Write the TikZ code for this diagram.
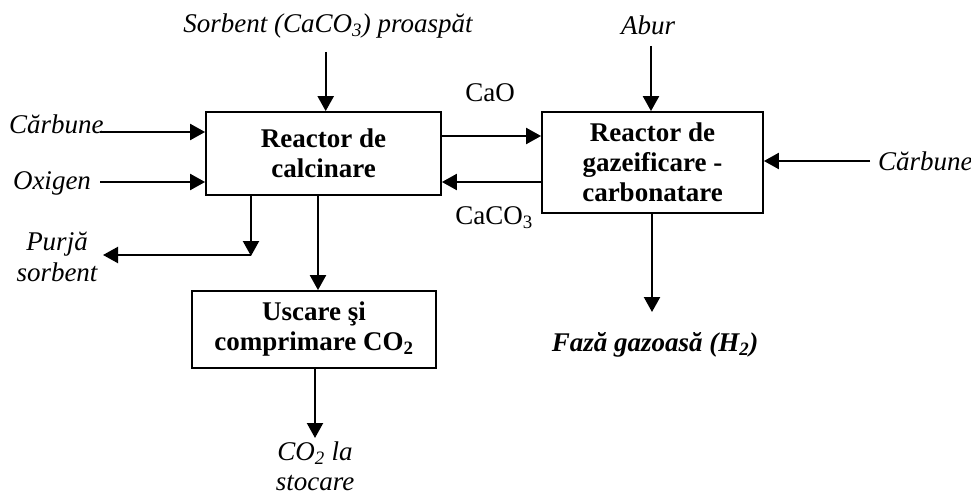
\documentclass[tikz,border=0pt]{standalone}
\usepackage{fontspec}
\setmainfont{Liberation Serif}
\usetikzlibrary{arrows.meta}
\begin{document}
\begin{tikzpicture}[x=1pt,y=-1pt,
  font=\fontsize{27}{30}\selectfont,
  unit/.style={draw, line width=1.8pt, inner sep=0pt, align=center, font=\fontsize{27}{30}\selectfont\bfseries},
  lbl/.style={inner sep=0pt, align=center},
  flow/.style={line width=2.2pt, -{Triangle[length=15pt,width=16pt]}},
  pipe/.style={line width=2.2pt}]
\useasboundingbox (0,0) rectangle (971,492);

% process units
\node[unit, minimum width=235pt, minimum height=83pt] (calc) at (323.5,153.5) {Reactor de\\calcinare};
\node[unit, minimum width=221pt, minimum height=101pt] (gas) at (652.5,162.5) {Reactor de\\gazeificare -\\carbonatare};
\node[unit, minimum width=244pt, minimum height=77pt] (dry) at (314,329.5) {Uscare şi\\comprimare CO\textsubscript{2}};

% stream labels
\node[lbl, font=\fontsize{27}{30}\selectfont\itshape] (sorb) at (328,26) {Sorbent (CaCO\textsubscript{3}) proaspăt};
\node[lbl, font=\fontsize{27}{30}\selectfont\itshape, anchor=base west] (coalL) at (9,133) {Cărbune};
\node[lbl, font=\fontsize{27}{30}\selectfont\itshape] (oxy) at (52,183) {Oxigen};
\node[lbl, font=\fontsize{27}{31}\selectfont\itshape] (purge) at (57,257) {Purjă\\sorbent};
\node[lbl] (cao) at (490,93) {CaO};
\node[lbl] (caco) at (494,218) {CaCO\textsubscript{3}};
\node[lbl, font=\fontsize{27}{30}\selectfont\itshape] (steam) at (648,25) {Abur};
\node[lbl, font=\fontsize{27}{30}\selectfont\itshape, anchor=west] (coalR) at (878,161) {Cărbune};
\node[lbl, font=\fontsize{27}{30}\selectfont\bfseries\itshape] (h2) at (655,345) {Fază gazoasă (H\textsubscript{2})};
\node[lbl, font=\fontsize{27}{30}\selectfont\itshape, anchor=north] (store) at (315,442) {CO\textsubscript{2} la\\stocare};

% free ends of the feed lines
\coordinate (sorbEnd) at (325.7,52);
\coordinate (coalLEnd) at (100,132);
\coordinate (oxyEnd) at (100,182);
\coordinate (steamEnd) at (651,46);
\coordinate (coalREnd) at (870,161);
\coordinate (purgeJoint) at (251,255);
\coordinate (purgeTip) at (103,255);
\coordinate (h2Tip) at (652,312);

% feeds
\draw[flow] (sorbEnd) -- (sorbEnd |- calc.north);
\draw[flow] (coalLEnd) -- (coalLEnd -| calc.west);
\draw[flow] (oxyEnd) -- (oxyEnd -| calc.west);
\draw[flow] (steamEnd) -- (steamEnd |- gas.north);
\draw[flow] (coalREnd) -- (coalREnd -| gas.east);

% solids loop between reactors
\draw[flow] (calc.east |- 0,136) -- (gas.west |- 0,136);
\draw[flow] (gas.west |- 0,182) -- (calc.east |- 0,182);

% outlets
\draw[flow] (calc.south -| purgeJoint) -- ([yshift=-1pt]purgeJoint);
\draw[flow] (purgeJoint) -- (purgeTip);
\draw[flow] (calc.south -| 318,0) -- (dry.north -| 318,0);
\draw[flow] (dry.south -| 315,0) -- (315,438);
\draw[flow] (gas.south -| h2Tip) -- (h2Tip);
\end{tikzpicture}
\end{document}
